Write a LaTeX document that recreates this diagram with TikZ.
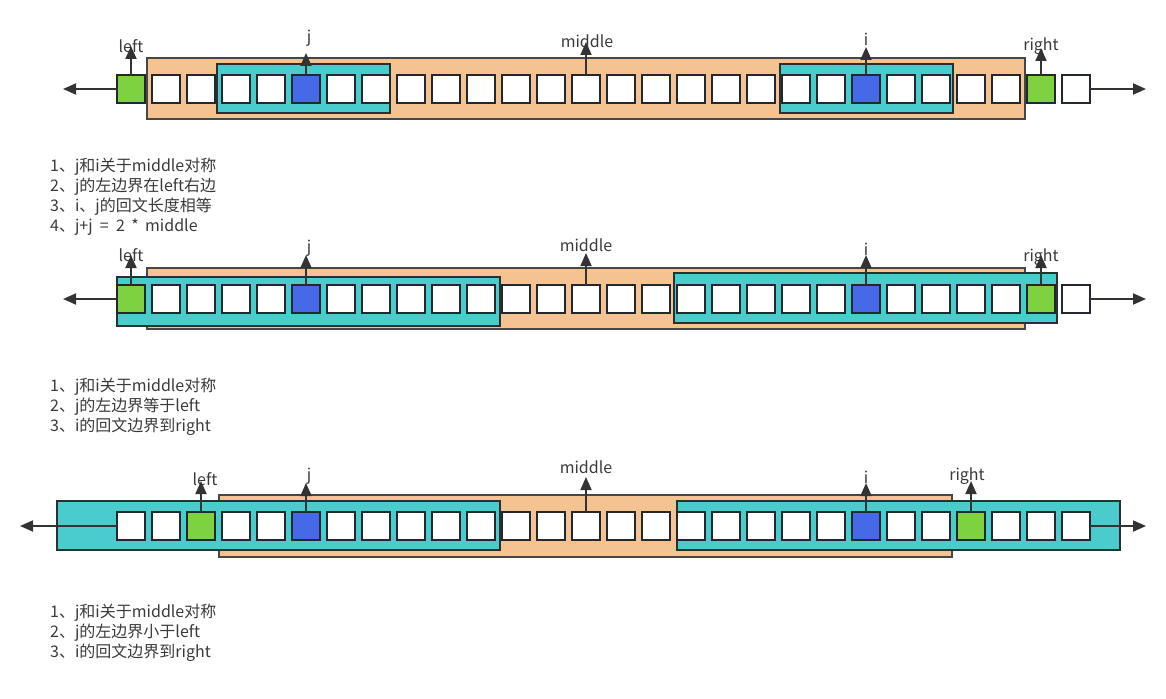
\documentclass[tikz,border=0pt]{standalone}
\usepackage{fontspec}
\setmainfont{Noto Sans CJK SC}
\usetikzlibrary{arrows.meta}
\definecolor{cellline}{HTML}{22282E}
\definecolor{greenc}{HTML}{7ED23F}
\definecolor{bluec}{HTML}{4669E8}
\definecolor{orangec}{HTML}{F5C391}
\definecolor{orangeline}{HTML}{474747}
\definecolor{tealc}{HTML}{4ACBCC}
\definecolor{tealline}{HTML}{2A2F33}
\definecolor{arrowc}{HTML}{333333}
\definecolor{textc}{HTML}{3A3A3A}
\begin{document}
\begin{tikzpicture}[x=1pt,y=-1pt,
  cellbox/.style={draw=cellline, line width=2.2pt, fill=white, minimum width=28pt, minimum height=28pt, inner sep=0pt, outer sep=0pt},
  greencell/.style={cellbox, fill=greenc},
  bluecell/.style={cellbox, fill=bluec},
  orangebox/.style={draw=orangeline, line width=2pt, fill=orangec},
  tealbox/.style={draw=tealline, line width=2pt, fill=tealc},
  ptr/.style={draw=arrowc, line width=1.8pt, -{Triangle[length=13pt,width=11pt]}},
  lbl/.style={text=textc, font=\fontsize{16}{19}\selectfont, inner sep=0pt, anchor=base},
  note/.style={text=textc, font=\fontsize{16}{19}\selectfont, inner sep=0pt, anchor=base west}
]
\useasboundingbox (0,0) rectangle (1166,698);

% ---------------- Row 1 ----------------
\draw[orangebox] (147,58) rectangle (1025,119);
\draw[tealbox] (217,64) rectangle (390,113);
\draw[tealbox] (779.5,64) rectangle (952.5,113);
\foreach \i in {0,...,27} {
  \ifnum\i=0 \def\st{greencell}\else
  \ifnum\i=26 \def\st{greencell}\else
  \ifnum\i=5 \def\st{bluecell}\else
  \ifnum\i=21 \def\st{bluecell}\else
  \def\st{cellbox}\fi\fi\fi\fi
  \node[\st] (a\i) at ({131+35*\i},89) {};
}
\node[lbl] (aleft) at (131,53) {left};
\node[lbl] (aj) at (309,43) {j};
\node[lbl] (amid) at (587,48) {middle};
\node[lbl] (ai) at (866,46) {i};
\node[lbl] (aright) at (1041,51) {right};
\coordinate (aleftT) at (131,46);
\coordinate (ajT) at (306,53);
\coordinate (amidT) at (586,42);
\coordinate (aiT) at (866,47);
\coordinate (arightT) at (1041,48);
\coordinate (aW) at (63,89);
\coordinate (aE) at (1146,89);
\draw[ptr] (a0.north) -- (aleftT);
\draw[ptr] (a5.north) -- (ajT);
\draw[ptr] (a13.north) -- (amidT);
\draw[ptr] (a21.north) -- (aiT);
\draw[ptr] (a26.north) -- (arightT);
\draw[ptr] (a0.west) -- (aW);
\draw[ptr] (a27.east) -- (aE);

\node[note] (n1a) at (50,171) {1、j和i关于middle对称};
\node[note] (n1b) at (50,191) {2、j的左边界在left右边};
\node[note] (n1c) at (50,211) {3、i、j的回文长度相等};
\node[note] (n1d) at (50,231) {4、j+j\hspace{0.45em}=\hspace{0.45em}2\hspace{0.4em}*\hspace{0.4em}middle};

% ---------------- Row 2 ----------------
\draw[orangebox] (147,268) rectangle (1025,329);
\draw[tealbox] (117,277) rectangle (500,326);
\draw[tealbox] (674,273) rectangle (1057,323);
\foreach \i in {0,...,27} {
  \ifnum\i=0 \def\st{greencell}\else
  \ifnum\i=26 \def\st{greencell}\else
  \ifnum\i=5 \def\st{bluecell}\else
  \ifnum\i=21 \def\st{bluecell}\else
  \def\st{cellbox}\fi\fi\fi\fi
  \node[\st] (b\i) at ({131+35*\i},299) {};
}
\node[lbl] (bleft) at (131,261) {left};
\node[lbl] (bj) at (309,252) {j};
\node[lbl] (bmid) at (586,251) {middle};
\node[lbl] (bi) at (866,255) {i};
\node[lbl] (bright) at (1041,261) {right};
\coordinate (bleftT) at (131,255);
\coordinate (bjT) at (306,255);
\coordinate (bmidT) at (586,253);
\coordinate (biT) at (866,255);
\coordinate (brightT) at (1041,255);
\coordinate (bW) at (63,299);
\coordinate (bE) at (1146,299);
\draw[ptr] (b0.north) -- (bleftT);
\draw[ptr] (b5.north) -- (bjT);
\draw[ptr] (b13.north) -- (bmidT);
\draw[ptr] (b21.north) -- (biT);
\draw[ptr] (b26.north) -- (brightT);
\draw[ptr] (b0.west) -- (bW);
\draw[ptr] (b27.east) -- (bE);

\node[note] (n2a) at (50,391) {1、j和i关于middle对称};
\node[note] (n2b) at (50,411) {2、j的左边界等于left};
\node[note] (n2c) at (50,431) {3、i的回文边界到right};

% ---------------- Row 3 ----------------
\draw[orangebox] (219,495) rectangle (952,557);
\draw[tealbox] (57,501) rectangle (500,550);
\draw[tealbox] (677,501) rectangle (1120,550);
\foreach \i in {0,...,27} {
  \ifnum\i=2 \def\st{greencell}\else
  \ifnum\i=24 \def\st{greencell}\else
  \ifnum\i=5 \def\st{bluecell}\else
  \ifnum\i=21 \def\st{bluecell}\else
  \def\st{cellbox}\fi\fi\fi\fi
  \node[\st] (c\i) at ({131+35*\i},526) {};
}
\node[lbl] (cleft) at (205,485) {left};
\node[lbl] (cj) at (309,480) {j};
\node[lbl] (cmid) at (586,473) {middle};
\node[lbl] (ci) at (866,483) {i};
\node[lbl] (cright) at (967,480) {right};
\coordinate (cleftT) at (201,481);
\coordinate (cjT) at (306,483);
\coordinate (cmidT) at (586,477);
\coordinate (ciT) at (866,483);
\coordinate (crightT) at (971,481);
\coordinate (cW) at (20,526);
\coordinate (cE) at (1146,526);
\draw[ptr] (c2.north) -- (cleftT);
\draw[ptr] (c5.north) -- (cjT);
\draw[ptr] (c13.north) -- (cmidT);
\draw[ptr] (c21.north) -- (ciT);
\draw[ptr] (c24.north) -- (crightT);
\draw[ptr] (c0.west) -- (cW);
\draw[ptr] (c27.east) -- (cE);

\node[note] (n3a) at (50,617) {1、j和i关于middle对称};
\node[note] (n3b) at (50,637) {2、j的左边界小于left};
\node[note] (n3c) at (50,657) {3、i的回文边界到right};
\end{tikzpicture}
\end{document}
